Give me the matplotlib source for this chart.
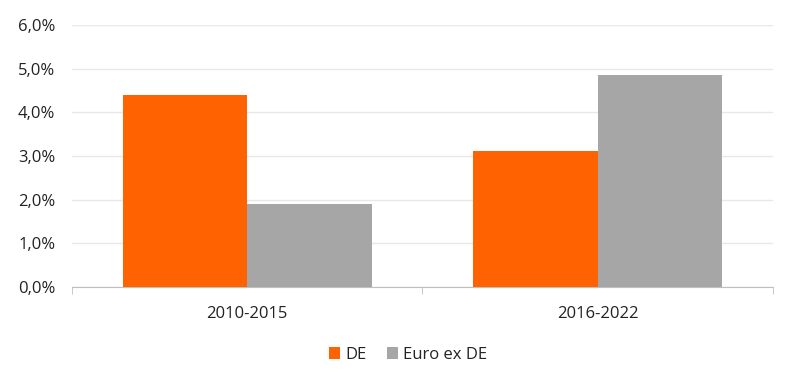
import numpy as np
import matplotlib.pyplot as plt
from matplotlib.ticker import FuncFormatter, FixedLocator

categories = ['2010-2015', '2016-2022']
de = [4.40, 3.12]
euro_ex_de = [1.89, 4.86]
series_names = ['DE', 'Euro ex DE']

plt.rcParams['font.family'] = ['Open Sans', 'DejaVu Sans']

fig = plt.figure(figsize=(8, 3.88), dpi=100)
ax = fig.add_axes([0.09, 0.2603, 0.876, 0.6753])

x = np.arange(len(categories))
w = 0.355
ax.bar(x - w / 2, de, w, color='#FF6200', label=series_names[0], zorder=3)
ax.bar(x + w / 2, euro_ex_de, w, color='#A6A6A6', label=series_names[1], zorder=3)

ax.set_xlim(-0.5, len(categories) - 0.5)
ax.set_ylim(0, 6)
ax.set_yticks(np.arange(0, 7, 1))
ax.yaxis.set_major_formatter(FuncFormatter(lambda v, p: f'{v:.1f}%'.replace('.', ',')))
ax.grid(axis='y', color='#E8E8E8', linewidth=1, zorder=0)

ax.set_xticks(x)
ax.set_xticklabels(categories)
ax.xaxis.set_minor_locator(FixedLocator(np.arange(-0.5, len(categories), 1)))
ax.tick_params(axis='x', which='major', length=0, pad=14, labelsize=12, colors='#222222')
ax.tick_params(axis='x', which='minor', length=5, color='#BFBFBF')
ax.tick_params(axis='y', length=0, pad=12, labelsize=12, colors='#222222')

for s in ['top', 'right', 'left']:
    ax.spines[s].set_visible(False)
ax.spines['bottom'].set_color('#BFBFBF')

fig.legend(loc='center', bbox_to_anchor=(0.51, 0.085), ncol=2, frameon=False,
           fontsize=12, handlelength=0.7, handleheight=0.7, handletextpad=0.3,
           columnspacing=1.2, labelcolor='#222222')

fig.savefig('out.png', dpi=100)
